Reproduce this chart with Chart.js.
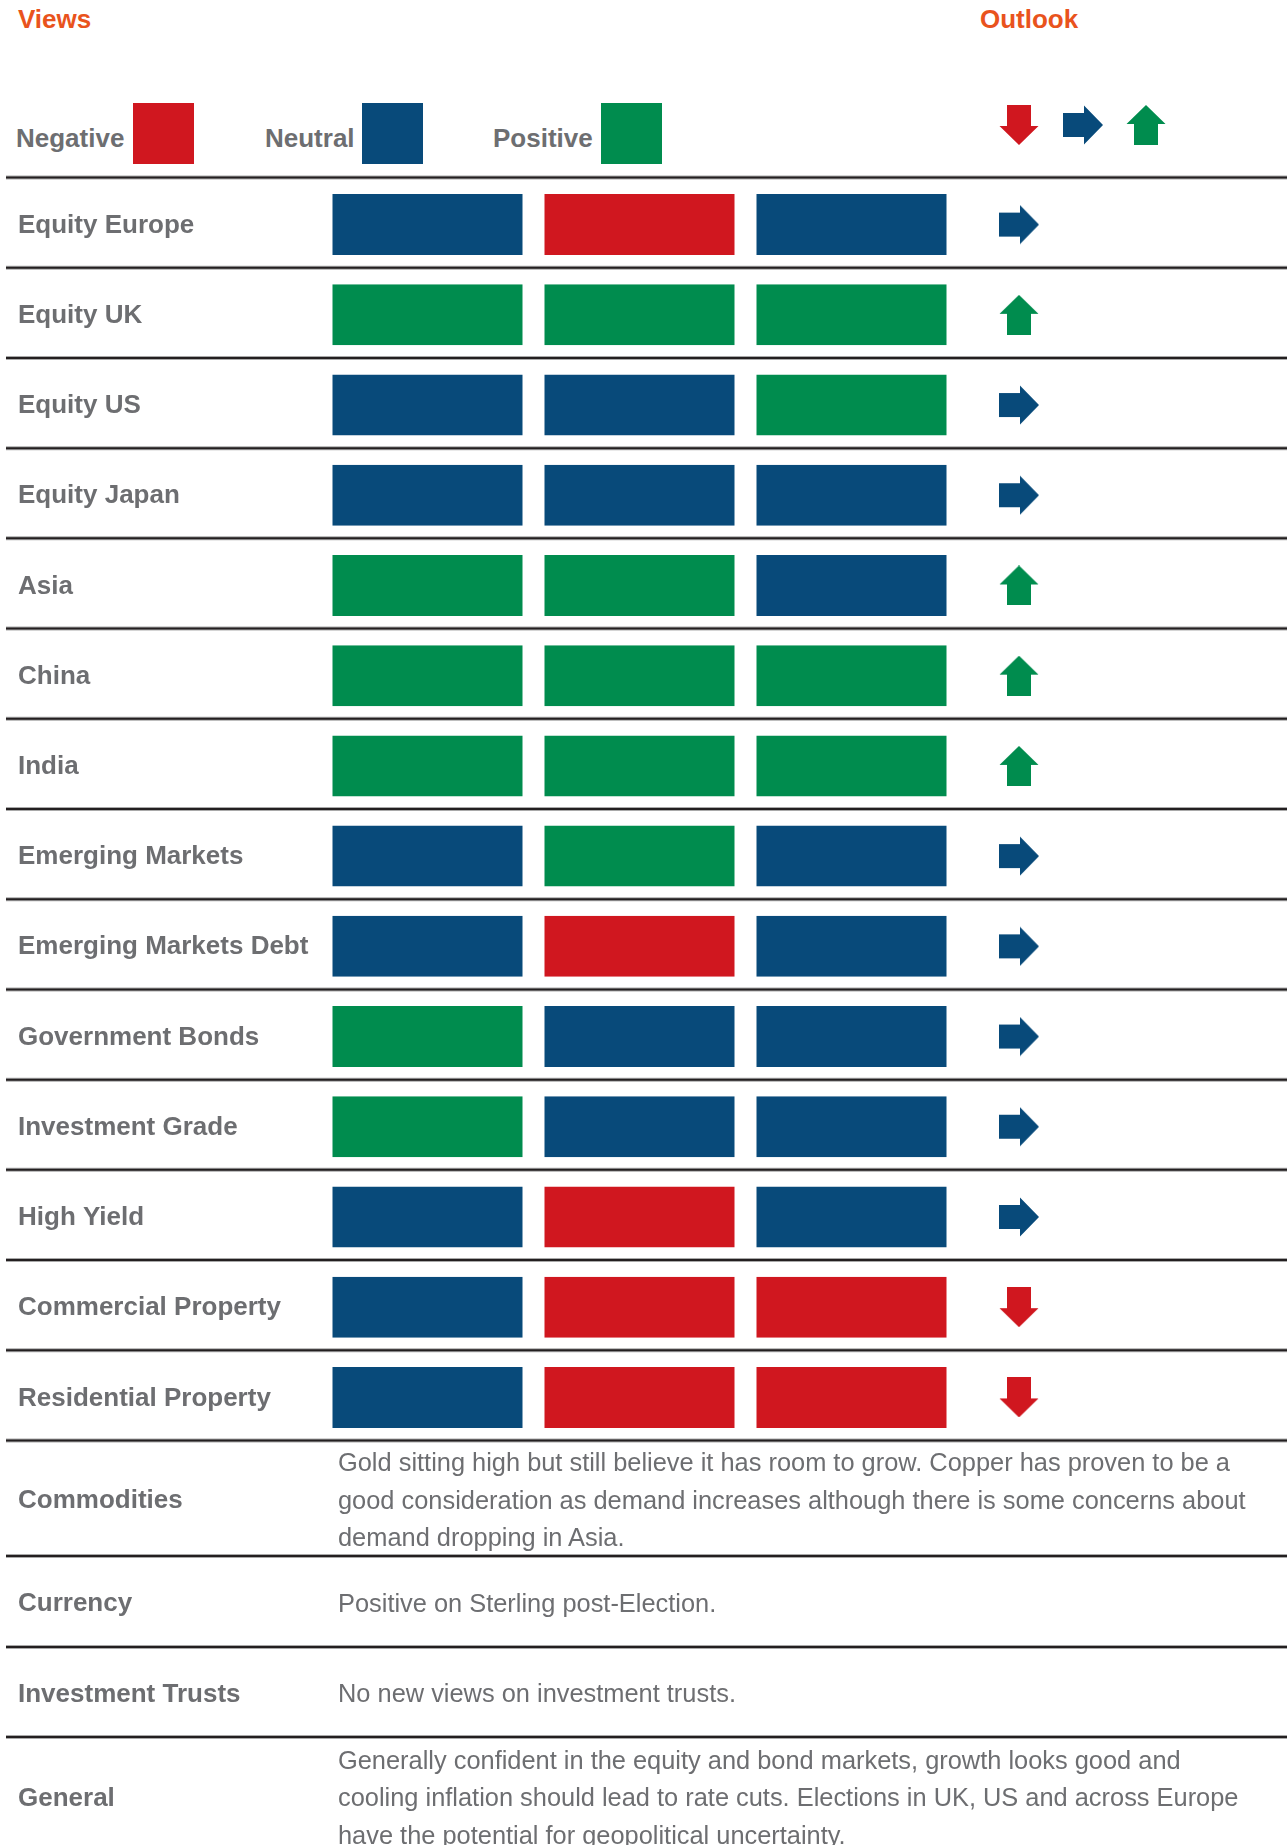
<!DOCTYPE html>
<html>
<head>
<meta charset="utf-8">
<script src="https://cdn.jsdelivr.net/npm/chart.js@4"></script>
<style>
  html, body { margin: 0; padding: 0; background: #fff; }
  body { width: 1287px; height: 1845px; overflow: hidden; position: relative;
         font-family: "Liberation Sans", Arial, Helvetica, sans-serif; }
  .abs { position: absolute; }
  .title { font-size: 26px; line-height: 26px; font-weight: bold; color: #e9531d; top: 6px; }
  .lg-text { font-size: 26px; line-height: 26px; font-weight: bold; color: #6d6e71; top: 125px; }
  .lg-box { top: 103px; width: 61px; height: 61px; }
  #chart-wrap { left: 0; top: 0; width: 1287px; height: 1461px; }
  .row { left: 0; width: 1287px; display: flex; align-items: center; }
  .row .lbl { position: absolute; left: 18px; font-size: 26px; font-weight: bold; color: #6d6e71; transform: translateY(1px); }
  .row .txt { position: absolute; left: 338px; font-size: 25.4px; line-height: 37.6px; color: #6d6e71; white-space: nowrap; transform: translateY(2px); }
  .sep { left: 6px; width: 1281px; height: 2px; background: #231f20;
         border-top: 1px solid #a9a9a9; border-bottom: 1px solid #a9a9a9; }
</style>
</head>
<body>

<div class="abs title" style="left:18px">Views</div>
<div class="abs title" style="left:980px">Outlook</div>

<div class="abs lg-text" style="left:16px">Negative</div>
<div class="abs lg-box" id="box-neg" style="left:133px"></div>
<div class="abs lg-text" style="left:265px">Neutral</div>
<div class="abs lg-box" id="box-neu" style="left:362px"></div>
<div class="abs lg-text" style="left:493px">Positive</div>
<div class="abs lg-box" id="box-pos" style="left:601px"></div>

<canvas class="abs" id="arr-down" width="40" height="40" style="left:999px;top:105px"></canvas>
<canvas class="abs" id="arr-flat" width="40" height="40" style="left:1063px;top:105px"></canvas>
<canvas class="abs" id="arr-up" width="40" height="40" style="left:1126px;top:105px"></canvas>

<div class="abs" id="chart-wrap"><canvas id="chart" width="1287" height="1461"></canvas></div>

<div id="notes"></div>

<script>
// rows of the views table
const rows = [
  "Equity Europe", "Equity UK", "Equity US", "Equity Japan", "Asia", "China", "India",
  "Emerging Markets", "Emerging Markets Debt", "Government Bonds", "Investment Grade",
  "High Yield", "Commercial Property", "Residential Property"
];

// -1 = negative, 0 = neutral, 1 = positive
const view1 = [0, 1, 0, 0, 1, 1, 1, 0, 0, 1, 1, 0, 0, 0];
const view2 = [-1, 1, 0, 0, 1, 1, 1, 1, -1, 0, 0, -1, -1, -1];
const view3 = [0, 1, 1, 0, 0, 1, 1, 0, 0, 0, 0, 0, -1, -1];
const outlook = [0, 1, 0, 0, 1, 1, 1, 0, 0, 0, 0, 0, -1, -1];

// text rows under the table
const noteLabels = ["Commodities", "Currency", "Investment Trusts", "General"];
const noteTexts = [
  ["Gold sitting high but still believe it has room to grow. Copper has proven to be a",
   "good consideration as demand increases although there is some concerns about",
   "demand dropping in Asia."],
  ["Positive on Sterling post-Election."],
  ["No new views on investment trusts."],
  ["Generally confident in the equity and bond markets, growth looks good and",
   "cooling inflation should lead to rate cuts. Elections in UK, US and across Europe",
   "have the potential for geopolitical uncertainty."]
];

const COLORS = { "-1": "#d0171f", "0": "#084a7a", "1": "#008c4e" };
const FONT = '"Liberation Sans", Arial, Helvetica, sans-serif';
const OUTLOOK_POS = 3.29;   // arrow column on the x scale
const LINE_DARK = "#231f20";
const RULE_SHIFT = -2;      // rules sit a little above the cell centres

document.getElementById("box-neg").style.background = COLORS["-1"];
document.getElementById("box-neu").style.background = COLORS["0"];
document.getElementById("box-pos").style.background = COLORS["1"];

// arrow icons
function drawArrow(cv, dir) {
  const ctx = cv.getContext("2d");
  const angle = dir === 1 ? -Math.PI / 2 : dir === -1 ? Math.PI / 2 : 0;
  ctx.save();
  ctx.translate(20, 20);
  ctx.rotate(angle);
  ctx.fillStyle = COLORS[String(dir)];
  ctx.beginPath();
  ctx.moveTo(-20, -12);
  ctx.lineTo(1, -12);
  ctx.lineTo(1, -19.5);
  ctx.lineTo(20, 0);
  ctx.lineTo(1, 19.5);
  ctx.lineTo(1, 12);
  ctx.lineTo(-20, 12);
  ctx.closePath();
  ctx.fill();
  ctx.restore();
  return cv;
}
function makeArrow(dir) {
  const cv = document.createElement("canvas");
  cv.width = 40; cv.height = 40;
  return drawArrow(cv, dir);
}
drawArrow(document.getElementById("arr-down"), -1);
drawArrow(document.getElementById("arr-flat"), 0);
drawArrow(document.getElementById("arr-up"), 1);
const arrows = { "-1": makeArrow(-1), "0": makeArrow(0), "1": makeArrow(1) };

// horizontal rules between the rows, full page width
const rowRules = {
  id: "rowRules",
  afterDraw(chart) {
    const y = chart.scales.y;
    const step = y.getPixelForValue(1) - y.getPixelForValue(0);
    const ctx = chart.ctx;
    ctx.save();
    for (let i = 0; i <= rows.length; i++) {
      const yy = y.getPixelForValue(0) - step / 2 + i * step + RULE_SHIFT;
      ctx.beginPath();
      ctx.moveTo(6, yy);
      ctx.lineTo(chart.width, yy);
      ctx.strokeStyle = "#a9a9a9";
      ctx.lineWidth = 4;
      ctx.stroke();
      ctx.strokeStyle = LINE_DARK;
      ctx.lineWidth = 2;
      ctx.stroke();
    }
    ctx.restore();
  }
};

const views = [view1, view2, view3];
const datasets = views.map((v, c) => ({
  type: "bar",
  label: "View " + (c + 1),
  data: v.map(() => [c, c + 1]),
  backgroundColor: v.map(x => COLORS[String(x)]),
  borderColor: "#ffffff",
  borderWidth: { left: 11, right: 11, top: 0, bottom: 0 },
  borderSkipped: false,
  grouped: false,
  barPercentage: 0.676,
  categoryPercentage: 1
}));
datasets.push({
  type: "scatter",
  label: "Outlook",
  data: outlook.map((o, i) => ({ x: OUTLOOK_POS, y: rows[i] })),
  pointStyle: outlook.map(o => arrows[String(o)]),
  pointRadius: 1,
  showLine: false
});

new Chart(document.getElementById("chart"), {
  type: "bar",
  data: { labels: rows, datasets },
  options: {
    indexAxis: "y",
    responsive: false,
    animation: false,
    devicePixelRatio: 1,
    layout: { autoPadding: false, padding: { top: 179.5, bottom: 18.5, left: 18, right: 11.5 } },
    plugins: { legend: { display: false }, tooltip: { enabled: false } },
    scales: {
      x: { type: "linear", min: 0, max: 4.5, display: false },
      y: {
        type: "category",
        offset: true,
        grid: { display: false },
        border: { display: false },
        ticks: {
          autoSkip: false,
          crossAlign: "far",
          padding: 0,
          labelOffset: 1,
          color: "#6d6e71",
          font: { family: FONT, size: 26, weight: "bold" }
        },
        afterFit(s) { s.width = 303.5; }
      }
    }
  },
  plugins: [rowRules]
});

// bottom text rows
const notes = document.getElementById("notes");
const noteTops = [1440.5, 1556.4, 1647.1, 1737];
const noteHeights = [115.9, 90.7, 89.9, 118];
noteLabels.forEach((lbl, i) => {
  const row = document.createElement("div");
  row.className = "abs row";
  row.style.top = noteTops[i] + "px";
  row.style.height = noteHeights[i] + "px";
  row.innerHTML = `<div class="lbl">${lbl}</div><div class="txt">${noteTexts[i].join("<br>")}</div>`;
  notes.appendChild(row);
  if (i < noteLabels.length - 1) {
    const sep = document.createElement("div");
    sep.className = "abs sep";
    sep.style.top = (noteTops[i + 1] - 2) + "px";
    notes.appendChild(sep);
  }
});
</script>
</body>
</html>
